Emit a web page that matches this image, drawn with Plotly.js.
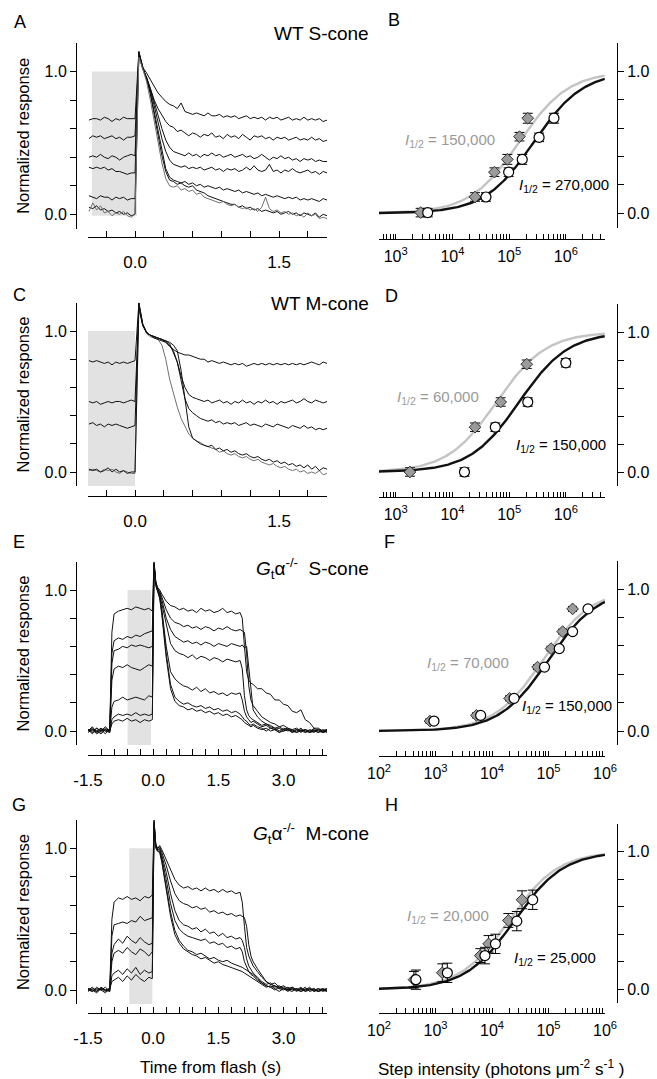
<!DOCTYPE html>
<html><head><meta charset="utf-8">
<script src="https://cdn.plot.ly/plotly-3.0.1.min.js"></script>
<style>html,body{margin:0;padding:0;background:#fff}#chart{width:657px;height:1079px}</style>
</head><body><div id="chart"></div>
<script>
// ---------- time bases ----------
const tWT = [-0.48,-0.44,-0.40,-0.36,-0.32,-0.28,-0.24,-0.20,-0.16,-0.12,-0.08,-0.04, 0.00,
 0.04,0.08,0.12,0.16,0.20,0.24,0.28,0.32,0.36,0.40,
 0.44,0.48,0.52,0.56,0.60,0.64,0.68,0.72,0.76,0.80,
 0.84,0.88,0.92,0.96,1.00,1.04,1.08,1.12,1.16,1.20,
 1.24,1.28,1.32,1.36,1.40,1.44,1.48,1.52,1.56,1.60,
 1.64,1.68,1.72,1.76,1.80,1.84,1.88,1.92,1.96,2.00];
const tKO = [-1.5,-1.4,-1.3,-1.2,-1.1,-1.0, -0.95, -0.9,-0.8,-0.7,-0.6,-0.5,-0.4,-0.3,-0.2,-0.1, -0.02,
 0.02,0.06,0.1,0.15,0.2,
 0.3,0.4,0.5,0.6,0.7,0.8,0.9,1.0,1.1,1.2,1.3,1.4,1.5,1.6,1.7,1.8,1.9,2.0,
 2.05,2.1,2.15,2.2,2.25,
 2.3,2.4,2.5,2.6,2.7,2.8,2.9,3.0,3.1,3.2,3.3,3.4,3.5,3.6,3.7,3.8,3.9,4.0];

// ---------- panel A : WT S-cone ----------
const A1 = [0.66,0.67,0.67,0.66,0.68,0.67,0.65,0.67,0.66,0.68,0.67,0.67, 0.67,
 1.14,1.03,0.99,0.94,0.89,0.85,0.82,0.79,0.77,0.76,
 0.74,0.78,0.72,0.71,0.70,0.71,0.70,0.69,0.71,0.69,
 0.69,0.70,0.68,0.69,0.68,0.69,0.67,0.68,0.69,0.67,
 0.68,0.67,0.68,0.66,0.68,0.67,0.68,0.66,0.67,0.68,
 0.66,0.67,0.66,0.68,0.66,0.67,0.66,0.67,0.65,0.66];
const A2 = [0.53,0.55,0.54,0.55,0.53,0.54,0.55,0.53,0.54,0.52,0.54,0.54, 0.55,
 1.13,1.02,0.96,0.88,0.80,0.74,0.69,0.65,0.62,0.61,
 0.58,0.59,0.57,0.55,0.57,0.56,0.54,0.56,0.55,0.57,
 0.54,0.55,0.53,0.56,0.54,0.55,0.53,0.56,0.54,0.52,
 0.55,0.54,0.55,0.53,0.54,0.52,0.54,0.53,0.54,0.52,
 0.53,0.54,0.52,0.53,0.52,0.54,0.52,0.53,0.51,0.52];
const A3 = [0.40,0.41,0.40,0.42,0.40,0.39,0.41,0.40,0.38,0.40,0.41,0.42, 0.41,
 1.12,1.02,0.96,0.88,0.78,0.68,0.60,0.52,0.47,0.44,
 0.43,0.42,0.41,0.43,0.41,0.42,0.40,0.42,0.41,0.43,
 0.41,0.42,0.40,0.41,0.42,0.40,0.41,0.42,0.40,0.41,
 0.39,0.40,0.42,0.40,0.38,0.40,0.39,0.41,0.39,0.40,
 0.38,0.39,0.37,0.39,0.38,0.39,0.37,0.38,0.37,0.37];
const A4 = [0.33,0.32,0.33,0.32,0.33,0.31,0.32,0.30,0.30,0.29,0.28,0.29, 0.29,
 1.12,1.02,0.95,0.87,0.76,0.64,0.53,0.44,0.38,0.35,
 0.34,0.33,0.34,0.32,0.33,0.32,0.33,0.31,0.32,0.33,
 0.31,0.32,0.30,0.32,0.31,0.32,0.30,0.31,0.33,0.31,
 0.34,0.31,0.30,0.31,0.35,0.30,0.31,0.29,0.31,0.30,
 0.32,0.30,0.29,0.30,0.31,0.29,0.30,0.28,0.30,0.29];
const A5 = [0.13,0.12,0.11,0.13,0.12,0.12,0.10,0.12,0.11,0.12,0.10,0.11, 0.11,
 1.13,1.03,0.95,0.85,0.72,0.58,0.44,0.32,0.26,0.24,
 0.23,0.22,0.23,0.21,0.22,0.20,0.21,0.19,0.20,0.19,
 0.18,0.19,0.17,0.18,0.17,0.16,0.17,0.15,0.16,0.15,
 0.14,0.15,0.13,0.14,0.13,0.12,0.13,0.12,0.11,0.12,
 0.11,0.12,0.10,0.11,0.10,0.11,0.10,0.09,0.11,0.10];
const A6 = [0.05,0.04,0.06,0.03,0.04,0.02,0.03,0.01,0.02,0.00,0.01,-0.01, 0.00,
 1.14,1.03,0.95,0.84,0.70,0.55,0.41,0.30,0.24,0.23,
 0.21,0.22,0.20,0.19,0.20,0.17,0.16,0.15,0.13,0.12,
 0.11,0.10,0.09,0.08,0.07,0.07,0.05,0.06,0.04,0.05,
 0.03,0.04,0.02,0.03,0.02,0.01,0.02,0.00,0.01,0.02,
 0.00,0.01,-0.01,0.01,0.00,-0.01,0.01,-0.02,0.00,-0.01];
const A7gray = [0.02,0.08,0.03,0.06,0.01,0.02,-0.01,0.01,0.00,0.02,-0.01,-0.02, 0.00,
 1.10,1.02,0.93,0.80,0.65,0.50,0.36,0.25,0.20,0.19,
 0.20,0.17,0.18,0.16,0.17,0.14,0.15,0.12,0.11,0.10,
 0.09,0.08,0.09,0.07,0.06,0.07,0.05,0.04,0.05,0.03,
 0.04,0.02,0.05,0.12,0.04,0.02,0.03,0.01,0.02,0.00,
 0.01,-0.01,0.00,-0.02,0.01,-0.01,0.00,-0.03,-0.02,-0.03];

// ---------- panel C : WT M-cone ----------
const C1 = [0.79,0.78,0.79,0.78,0.77,0.78,0.76,0.78,0.77,0.78,0.77,0.78, 0.79,
 1.20,1.05,0.99,0.97,0.96,0.95,0.94,0.92,0.89,0.87,
 0.85,0.84,0.83,0.83,0.82,0.81,0.80,0.80,0.78,0.79,
 0.78,0.77,0.78,0.77,0.76,0.77,0.76,0.77,0.75,0.76,
 0.77,0.76,0.77,0.76,0.77,0.76,0.77,0.76,0.77,0.76,
 0.77,0.76,0.77,0.76,0.77,0.78,0.77,0.76,0.78,0.77];
const C2 = [0.50,0.49,0.50,0.48,0.49,0.50,0.49,0.50,0.50,0.49,0.50,0.51, 0.50,
 1.18,1.04,0.99,0.97,0.96,0.95,0.94,0.93,0.91,0.85,
 0.78,0.68,0.60,0.55,0.53,0.52,0.51,0.50,0.51,0.49,
 0.50,0.51,0.49,0.50,0.48,0.50,0.49,0.51,0.49,0.50,
 0.48,0.50,0.49,0.51,0.49,0.50,0.48,0.50,0.49,0.50,
 0.51,0.49,0.50,0.52,0.50,0.49,0.51,0.50,0.49,0.50];
const C3 = [0.34,0.35,0.33,0.34,0.32,0.34,0.33,0.34,0.33,0.32,0.31,0.32, 0.33,
 1.18,1.04,0.99,0.97,0.95,0.94,0.93,0.92,0.90,0.86,
 0.78,0.66,0.52,0.45,0.42,0.40,0.38,0.37,0.36,0.37,
 0.35,0.36,0.34,0.35,0.34,0.35,0.33,0.34,0.35,0.33,
 0.34,0.33,0.32,0.34,0.33,0.32,0.34,0.33,0.32,0.31,
 0.33,0.32,0.31,0.33,0.31,0.32,0.30,0.31,0.30,0.31];
const C4 = [0.02,0.01,0.02,0.00,0.01,0.03,0.00,0.02,0.00,0.01,-0.01,0.00, 0.00,
 1.20,1.05,0.99,0.97,0.96,0.95,0.94,0.93,0.92,0.90,
 0.86,0.72,0.50,0.32,0.24,0.22,0.20,0.19,0.18,0.19,
 0.16,0.17,0.15,0.16,0.14,0.15,0.13,0.12,0.13,0.11,
 0.10,0.11,0.09,0.08,0.09,0.07,0.08,0.06,0.07,0.05,
 0.06,0.04,0.05,0.03,0.05,0.02,0.04,0.01,0.03,0.02];
const C5gray = [0.01,0.02,0.01,0.00,0.02,0.01,0.02,0.00,-0.01,0.01,0.00,-0.01, -0.01,
 1.15,1.04,0.98,0.96,0.95,0.94,0.90,0.80,0.66,0.55,
 0.46,0.38,0.32,0.27,0.24,0.22,0.21,0.19,0.18,0.17,
 0.16,0.14,0.15,0.13,0.12,0.13,0.11,0.10,0.11,0.09,
 0.08,0.09,0.07,0.06,0.05,0.06,0.04,0.03,0.04,0.02,
 0.01,0.02,0.00,0.01,-0.01,0.00,-0.01,0.01,-0.02,-0.01];

// ---------- panel E : Gt alpha -/- S-cone ----------
const E1 = [0.01,-0.02,0.02,0.00,0.03,0.00, 0.70, 0.83,0.85,0.86,0.87,0.86,0.88,0.87,0.86,0.87, 0.85,
 1.20,1.06,1.02,1.00,0.97,
 0.92,0.89,0.88,0.86,0.87,0.85,0.86,0.84,0.87,0.85,0.86,0.84,0.85,0.87,0.84,0.85,0.83,0.84,
 0.80,0.60,0.42,0.36,0.34,
 0.33,0.30,0.30,0.27,0.26,0.22,0.22,0.19,0.18,0.14,0.13,0.15,0.08,0.06,0.02,0.02,0.00,0.01];
const E2 = [0.00,0.02,-0.01,0.01,-0.02,0.02, 0.55, 0.64,0.66,0.65,0.67,0.66,0.68,0.67,0.69,0.70, 0.71,
 1.19,1.05,1.01,0.99,0.95,
 0.86,0.80,0.77,0.76,0.74,0.75,0.73,0.74,0.72,0.74,0.73,0.71,0.73,0.72,0.74,0.72,0.71,0.72,
 0.71,0.70,0.55,0.32,0.22,
 0.18,0.14,0.10,0.08,0.06,0.05,0.03,0.04,0.02,0.01,0.02,0.00,0.01,-0.01,0.00,0.01,-0.01,0.00];
const E3 = [0.01,0.00,0.02,-0.01,0.02,0.00, 0.48, 0.57,0.58,0.60,0.59,0.61,0.60,0.61,0.60,0.59, 0.60,
 1.19,1.05,1.01,0.98,0.93,
 0.80,0.72,0.67,0.65,0.63,0.64,0.62,0.63,0.61,0.63,0.62,0.60,0.62,0.61,0.60,0.62,0.61,0.60,
 0.61,0.59,0.60,0.45,0.25,
 0.15,0.10,0.07,0.05,0.04,0.02,0.03,0.01,0.02,0.00,0.01,-0.01,0.01,0.00,-0.01,0.01,0.00,-0.01];
const E4 = [0.00,0.03,-0.01,0.01,0.00,0.01, 0.36, 0.44,0.46,0.45,0.47,0.45,0.44,0.43,0.45,0.47, 0.46,
 1.18,1.05,1.00,0.97,0.90,
 0.74,0.62,0.57,0.55,0.54,0.52,0.54,0.51,0.53,0.52,0.50,0.52,0.51,0.49,0.51,0.50,0.49,0.50,
 0.44,0.25,0.15,0.11,0.09,
 0.08,0.06,0.04,0.05,0.03,0.02,0.00,0.02,0.01,-0.01,0.01,0.00,-0.01,0.01,0.00,-0.01,0.01,0.00];
const E5 = [0.01,-0.01,0.00,0.02,0.00,-0.01, 0.17, 0.21,0.22,0.24,0.22,0.23,0.24,0.23,0.22,0.25, 0.24,
 1.18,1.04,1.00,0.96,0.86,
 0.60,0.42,0.37,0.34,0.32,0.31,0.29,0.31,0.28,0.30,0.27,0.28,0.26,0.27,0.25,0.27,0.26,0.27,
 0.22,0.14,0.10,0.08,0.06,
 0.07,0.05,0.03,0.04,0.02,0.01,0.02,0.00,0.01,0.00,-0.01,0.01,0.00,-0.01,0.02,0.00,-0.01,0.00];
const E6 = [0.00,0.01,-0.02,0.00,0.01,-0.01, 0.08, 0.10,0.12,0.11,0.12,0.11,0.13,0.11,0.12,0.11, 0.12,
 1.17,1.04,1.00,0.95,0.84,
 0.55,0.33,0.24,0.21,0.19,0.20,0.18,0.17,0.18,0.16,0.17,0.15,0.16,0.14,0.15,0.13,0.14,0.12,
 0.10,0.08,0.07,0.05,0.04,
 0.05,0.03,0.02,0.00,0.02,0.01,-0.01,0.01,0.00,0.01,-0.01,0.00,0.01,-0.01,0.00,0.01,-0.01,0.00];
const E7 = [-0.01,0.01,0.00,-0.02,0.01,0.00, 0.05, 0.07,0.08,0.07,0.09,0.07,0.08,0.06,0.08,0.07, 0.08,
 1.16,1.03,0.99,0.94,0.82,
 0.52,0.30,0.21,0.18,0.17,0.15,0.16,0.14,0.15,0.13,0.14,0.12,0.13,0.11,0.12,0.10,0.11,0.09,
 0.08,0.06,0.05,0.04,0.03,
 0.04,0.02,0.01,0.02,0.00,0.01,-0.01,0.00,0.01,-0.01,0.00,0.02,-0.01,0.00,0.01,-0.01,0.00,0.01];

// ---------- panel G : Gt alpha -/- M-cone ----------
const G1 = [0.01,-0.01,0.02,0.00,-0.02,0.01, 0.50, 0.62,0.65,0.64,0.66,0.64,0.65,0.63,0.66,0.65, 0.67,
 1.20,1.02,1.00,1.02,0.99,
 0.92,0.84,0.78,0.74,0.72,0.73,0.71,0.72,0.70,0.72,0.70,0.71,0.69,0.71,0.69,0.70,0.68,0.69,
 0.62,0.45,0.30,0.24,0.20,
 0.17,0.13,0.09,0.06,0.04,0.05,0.02,0.03,0.01,0.02,0.00,0.01,-0.01,0.01,0.00,-0.01,0.01,0.00];
const G2 = [0.00,0.02,-0.01,0.01,0.00,-0.01, 0.38, 0.46,0.47,0.48,0.47,0.49,0.48,0.52,0.49,0.50, 0.51,
 1.19,1.03,1.00,1.01,0.97,
 0.88,0.77,0.68,0.63,0.61,0.60,0.58,0.59,0.57,0.58,0.55,0.56,0.54,0.55,0.53,0.54,0.52,0.53,
 0.52,0.51,0.45,0.32,0.24,
 0.20,0.15,0.10,0.06,0.04,0.03,0.01,0.02,0.00,0.01,-0.01,0.01,0.00,0.02,-0.01,0.00,0.01,-0.01];
const G3 = [0.01,0.00,-0.01,0.02,0.00,0.01, 0.26, 0.32,0.36,0.33,0.38,0.35,0.33,0.37,0.34,0.32, 0.33,
 1.18,1.02,0.99,1.00,0.95,
 0.83,0.68,0.56,0.49,0.46,0.45,0.43,0.44,0.41,0.43,0.40,0.41,0.38,0.40,0.37,0.38,0.36,0.37,
 0.35,0.30,0.22,0.17,0.14,
 0.12,0.09,0.06,0.04,0.05,0.02,0.03,0.01,0.00,0.02,0.00,-0.01,0.01,0.00,0.01,-0.01,0.00,0.01];
const G4 = [-0.01,0.01,0.00,0.01,-0.01,0.00, 0.20, 0.26,0.28,0.26,0.30,0.27,0.25,0.29,0.27,0.24, 0.27,
 1.17,1.02,0.99,0.99,0.93,
 0.78,0.61,0.49,0.43,0.40,0.38,0.37,0.36,0.35,0.36,0.33,0.34,0.32,0.33,0.30,0.31,0.29,0.30,
 0.27,0.20,0.16,0.13,0.11,
 0.10,0.07,0.05,0.03,0.02,0.03,0.01,0.00,0.02,0.00,0.01,-0.01,0.00,0.01,-0.01,0.01,0.00,-0.01];
const G5 = [0.00,-0.01,0.01,0.00,0.02,-0.01, 0.10, 0.12,0.14,0.11,0.15,0.12,0.16,0.11,0.14,0.12, 0.13,
 1.16,1.01,0.98,0.98,0.91,
 0.73,0.55,0.42,0.35,0.31,0.28,0.27,0.25,0.26,0.24,0.22,0.23,0.21,0.20,0.21,0.19,0.18,0.17,
 0.16,0.15,0.14,0.13,0.12,
 0.11,0.08,0.05,0.03,0.02,0.00,0.02,0.01,-0.01,0.01,0.00,0.02,-0.01,0.00,0.01,-0.01,0.00,0.01];
const G6 = [0.01,0.00,-0.02,0.01,0.00,0.01, 0.06, 0.07,0.09,0.06,0.10,0.07,0.11,0.08,0.06,0.09, 0.08,
 1.15,1.00,0.98,0.97,0.90,
 0.71,0.52,0.39,0.33,0.29,0.27,0.25,0.24,0.22,0.23,0.21,0.19,0.20,0.18,0.17,0.16,0.15,0.14,
 0.13,0.12,0.11,0.10,0.09,
 0.08,0.06,0.04,0.02,0.03,0.01,-0.01,0.01,0.00,-0.01,0.01,0.00,0.02,-0.01,0.00,0.01,-0.01,0.00];

// ---------- flash / step windows (time, response) ----------
const windowA = [-0.45, 0.02, -0.01, 1.0];
const windowC = [-0.50, 0.00, -0.10, 1.0];
const windowE = [-0.59, -0.05, -0.10, 1.0];
const windowG = [-0.55, -0.02, -0.10, 1.0];

// ---------- intensity-response panels ----------
// B: WT S-cone
const B_dia_I = [2750, 25000, 55000, 93000, 152000, 213000];
const B_dia_R = [0.005, 0.115, 0.29, 0.38, 0.54, 0.67];
const B_dia_E = [0.03, 0.03, 0.03, 0.035, 0.03, 0.035];
const B_cir_I = [3660, 39000, 98000, 170000, 337000, 617000];
const B_cir_R = [0.005, 0.115, 0.29, 0.38, 0.535, 0.67];
const B_cir_E = [0.03, 0.03, 0.03, 0.035, 0.03, 0.035];
// D: WT M-cone
const D_dia_I = [1780, 25000, 71000, 204000];
const D_dia_R = [0.0, 0.32, 0.50, 0.77];
const D_dia_E = [0.03, 0.03, 0.03, 0.03];
const D_cir_I = [16300, 57000, 213000, 1000000];
const D_cir_R = [0.0, 0.32, 0.50, 0.78];
const D_cir_E = [0.03, 0.03, 0.03, 0.03];
// F: Gt -/- S-cone (horizontal error, decades)
const F_dia_I = [800, 5300, 20400, 64000, 111000, 178000, 267000];
const F_dia_R = [0.07, 0.11, 0.23, 0.45, 0.58, 0.70, 0.86];
const F_cir_I = [940, 6300, 24600, 85000, 155000, 267000, 500000];
const F_cir_R = [0.07, 0.11, 0.23, 0.45, 0.58, 0.70, 0.86];
const F_errDec = [0.07, 0.07, 0.07, 0.07, 0.07, 0.07, 0.07];
// H: Gt -/- M-cone
const H_dia_I = [415, 1320, 6200, 8700, 19500, 34000];
const H_dia_R = [0.07, 0.12, 0.245, 0.33, 0.50, 0.65];
const H_dia_E = [0.06, 0.065, 0.05, 0.06, 0.05, 0.065];
const H_cir_I = [450, 1620, 7500, 11500, 27500, 52500];
const H_cir_R = [0.07, 0.12, 0.245, 0.33, 0.495, 0.65];
const H_cir_E = [0.07, 0.07, 0.06, 0.07, 0.07, 0.07];

// half-saturation intensities of the fitted curves [black, gray]
const halfSatB = [270000, 150000];
const halfSatD = [150000, 60000];
const halfSatF = [100000, 80000];
const halfSatH = [25000, 20000];
const labelsB = ['270,000', '150,000'];
const labelsD = ['150,000', '60,000'];
const labelsF = ['150,000', '70,000'];
const labelsH = ['25,000', '20,000'];

const xTicksWT = [0, 1.5], xTickTextWT = ['0.0', '1.5'];
const xMinorWT = [-0.3, 0.3, 0.6, 0.9, 1.2, 1.8];
const xTicksKO = [-1.5, 0, 1.5, 3.0], xTickTextKO = ['-1.5', '0.0', '1.5', '3.0'];
const xMinorKO = [-1.2,-0.9,-0.6,-0.3,0.3,0.6,0.9,1.2,1.8,2.1,2.4,2.7,3.3,3.6,3.9];
const yTicks = [0, 1], yTickText = ['0.0', '1.0'];
const yMinor = [0.2, 0.4, 0.6, 0.8];

// ---------- build ----------
const W = 657, H = 1079;
const FONT = '"Liberation Sans", Arial, Helvetica, sans-serif';
const fx = v => v / W, fy = v => 1 - v / H;
const BLACK = '#111', GRAYTR = '#707070', GRAYFIT = '#c4c4c4', GRAYTXT = '#9a9a9a';

const traces = [];
function lineTraces(t, series, color, xa, ya) {
  series.forEach(s => traces.push({type:'scatter', mode:'lines', x:t, y:s, xaxis:xa, yaxis:ya,
    line:{color:color, width:1}, hoverinfo:'skip', showlegend:false}));
}
lineTraces(tWT, [A1,A2,A3,A4,A5,A6], BLACK, 'x', 'y');
lineTraces(tWT, [A7gray], GRAYTR, 'x', 'y');
lineTraces(tWT, [C5gray], GRAYTR, 'x3', 'y3');
lineTraces(tWT, [C1,C2,C3,C4], BLACK, 'x3', 'y3');
lineTraces(tKO, [E1,E2,E3,E4,E5,E6,E7], BLACK, 'x5', 'y5');
lineTraces(tKO, [G1,G2,G3,G4,G5,G6], BLACK, 'x7', 'y7');

function fitCurves(halfSat, lo, hi, xa, ya) {
  const I = [];
  for (let e = lo; e <= hi + 1e-9; e += 0.02) I.push(Math.pow(10, e));
  [[halfSat[1], GRAYFIT], [halfSat[0], BLACK]].forEach(([k, c]) => {
    traces.push({type:'scatter', mode:'lines', x:I, y:I.map(v => v / (v + k)), xaxis:xa, yaxis:ya,
      line:{color:c, width:2.4}, hoverinfo:'skip', showlegend:false});
  });
}
function points(I, R, errY, errXdec, symbol, xa, ya) {
  const tr = {type:'scatter', mode:'markers', x:I, y:R, xaxis:xa, yaxis:ya, hoverinfo:'skip', showlegend:false, cliponaxis:false,
    marker: symbol === 'diamond'
      ? {symbol:'diamond', size:9, color:'#9b9b9b', line:{color:'#333', width:1}}
      : {symbol:'circle', size:10, color:'white', line:{color:'#000', width:1.2}}};
  if (errY) tr.error_y = {type:'data', array:errY, visible:true, color:'#000', thickness:1, width:5};
  if (errXdec) tr.error_x = {type:'data', symmetric:false,
    array: I.map((v,i) => v * (Math.pow(10, errXdec[i]) - 1)),
    arrayminus: I.map((v,i) => v * (1 - Math.pow(10, -errXdec[i]))),
    visible:true, color:'#000', thickness:1, width:3};
  traces.push(tr);
}
const rngWT = [Math.log10(507), Math.log10(4.9e6)];
const rngKO = [2, 6];
fitCurves(halfSatB, rngWT[0], rngWT[1], 'x2', 'y2');
points(B_dia_I, B_dia_R, B_dia_E, null, 'diamond', 'x2', 'y2');
points(B_cir_I, B_cir_R, B_cir_E, null, 'circle', 'x2', 'y2');
fitCurves(halfSatD, rngWT[0], rngWT[1], 'x4', 'y4');
points(D_dia_I, D_dia_R, D_dia_E, null, 'diamond', 'x4', 'y4');
points(D_cir_I, D_cir_R, D_cir_E, null, 'circle', 'x4', 'y4');
fitCurves(halfSatF, rngKO[0], rngKO[1], 'x6', 'y6');
points(F_dia_I, F_dia_R, null, F_errDec, 'diamond', 'x6', 'y6');
points(F_cir_I, F_cir_R, null, F_errDec, 'circle', 'x6', 'y6');
fitCurves(halfSatH, rngKO[0], rngKO[1], 'x8', 'y8');
points(H_dia_I, H_dia_R, H_dia_E, null, 'diamond', 'x8', 'y8');
points(H_cir_I, H_cir_R, H_cir_E, null, 'circle', 'x8', 'y8');

// ---------- axes ----------
const tickFont = {family:FONT, size:16, color:'#000'};
const common = {showgrid:false, zeroline:false, showline:true, linecolor:'#000', linewidth:1,
  tickcolor:'#000', tickwidth:1, tickfont:tickFont, fixedrange:true};
function minorLog(lo, hi) {
  const out = [];
  for (let d = Math.floor(lo); d <= Math.ceil(hi); d++)
    for (let m = 2; m <= 9; m++) { const v = m * Math.pow(10, d); if (Math.log10(v) >= lo && Math.log10(v) <= hi) out.push(v); }
  return out;
}
const rowsL = [ {top:43, bot:228.6, xl:237}, {top:302.8, bot:486.1, xl:496}, {top:561.8, bot:745.1, xl:755}, {top:820, bot:1004.2, xl:1013} ];
const rowsR = [ {top:43, bot:227.5, xl:239}, {top:304, bot:486, xl:497}, {top:560.6, bot:745.2, xl:756}, {top:824, bot:1003.1, xl:1013} ];
const layout = {width:W, height:H, margin:{l:0,r:0,t:0,b:0}, paper_bgcolor:'#fff', plot_bgcolor:'rgba(0,0,0,0)',
  showlegend:false, font:{family:FONT, size:16, color:'#000'}, shapes:[], annotations:[]};

function yAxis(row, side) {
  return Object.assign({}, common, {domain:[fy(row.bot), fy(row.top)], anchor:'free',
    position: side === 'left' ? fx(76) : fx(617), side:side, range:[-0.1, 1.2],
    ticks:'outside', ticklen:6, tickmode:'array', tickvals:yTicks, ticktext:yTickText,
    minor:{tickmode:'array', tickvals:yMinor, ticks:'outside', ticklen:6, tickcolor:'#000', tickwidth:1, showgrid:false}});
}
function xLin(row, range, tv, tt, mv) {
  return Object.assign({}, common, {domain:[fx(88), fx(327)], anchor:'free', position:fy(row.xl), range:range,
    ticks:'inside', ticklen:6, tickmode:'array', tickvals:tv, ticktext:tt, ticklabelstandoff:10,
    tickfont:{family:FONT, size:17, color:'#000'},
    minor:{tickmode:'array', tickvals:mv, ticks:'inside', ticklen:6, tickcolor:'#000', tickwidth:1, showgrid:false}});
}
function xLog(row, range) {
  const dec = []; for (let d = Math.ceil(range[0] - 1e-9); d <= Math.floor(range[1] + 1e-9); d++) dec.push(d);
  return Object.assign({}, common, {type:'log', domain:[fx(379), fx(605)], anchor:'free', position:fy(row.xl), range:range,
    ticks:'inside', ticklen:5, tickmode:'array', tickvals:dec.map(d => Math.pow(10, d)),
    ticktext:dec.map(d => '10<sup>' + d + '</sup>'), ticklabelstandoff:3,
    minor:{tickmode:'array', tickvals:minorLog(range[0], range[1]), ticks:'inside', ticklen:5, tickcolor:'#000', tickwidth:1, showgrid:false}});
}
layout.xaxis  = xLin(rowsL[0], [-0.49, 2.0], xTicksWT, xTickTextWT, xMinorWT);
layout.yaxis  = yAxis(rowsL[0], 'left');
layout.xaxis2 = xLog(rowsR[0], rngWT);
layout.yaxis2 = yAxis(rowsR[0], 'right');
layout.xaxis3 = xLin(rowsL[1], [-0.49, 2.0], xTicksWT, xTickTextWT, xMinorWT);
layout.yaxis3 = yAxis(rowsL[1], 'left');
layout.xaxis4 = xLog(rowsR[1], rngWT);
layout.yaxis4 = yAxis(rowsR[1], 'right');
layout.xaxis5 = xLin(rowsL[2], [-1.5, 4.0], xTicksKO, xTickTextKO, xMinorKO);
layout.yaxis5 = yAxis(rowsL[2], 'left');
layout.xaxis6 = xLog(rowsR[2], rngKO);
layout.yaxis6 = yAxis(rowsR[2], 'right');
layout.xaxis7 = xLin(rowsL[3], [-1.5, 4.0], xTicksKO, xTickTextKO, xMinorKO);
layout.yaxis7 = yAxis(rowsL[3], 'left');
layout.xaxis8 = xLog(rowsR[3], rngKO);
layout.yaxis8 = yAxis(rowsR[3], 'right');

// gray stimulus windows
[[windowA,'x','y'],[windowC,'x3','y3'],[windowE,'x5','y5'],[windowG,'x7','y7']].forEach(([w,xa,ya]) => {
  layout.shapes.push({type:'rect', xref:xa, yref:ya, x0:w[0], x1:w[1], y0:w[2], y1:w[3],
    fillcolor:'#e2e2e2', line:{width:0}, layer:'below'});
});

// annotations
function ann(text, x, y, opts) {
  layout.annotations.push(Object.assign({text:text, xref:'paper', yref:'paper', x:fx(x), y:fy(y),
    showarrow:false, xanchor:'center', yanchor:'middle', font:{family:FONT, size:16, color:'#000'}}, opts || {}));
}
const letterFont = {family:FONT, size:18, color:'#000'};
[['A',20,21.5],['B',394,20],['C',19,295],['D',391,295.5],['E',19,542],['F',389,542],['G',19,805],['H',391,805]]
  .forEach(([l,x,y]) => ann(l, x, y, {font:letterFont}));
const titleFont = {family:FONT, size:19, color:'#000'};
ann('WT S-cone', 371, 33, {xanchor:'right', font:titleFont});
ann('WT M-cone', 371, 303, {xanchor:'right', font:titleFont});
ann('<i>G</i><sub>t</sub>α<sup>-/-</sup>\u00a0 S-cone', 371, 568, {xanchor:'right', font:titleFont});
ann('<i>G</i><sub>t</sub>α<sup>-/-</sup>\u00a0 M-cone', 371, 833, {xanchor:'right', font:titleFont});
rowsL.forEach(r => ann('Normalized response', 23, (r.top + r.bot) / 2, {textangle:-90, font:{family:FONT, size:16.5, color:'#000'}}));
ann('Time from flash (s)', 210, 1067, {font:{family:FONT, size:17, color:'#000'}});
ann('Step intensity (photons μm<sup>-2</sup> s<sup>-1</sup> )', 501, 1068, {font:{family:FONT, size:17, color:'#000'}});

const i12 = v => '<i>I</i><sub>1/2</sub> = ' + v;
const blkF = {family:FONT, size:15, color:'#000'}, gryF = {family:FONT, size:15, color:GRAYTXT};
ann(i12(labelsB[1]), 403, 140, {xanchor:'left', font:gryF});
ann(i12(labelsB[0]), 611, 185, {xanchor:'right', font:blkF});
ann(i12(labelsD[1]), 395, 397, {xanchor:'left', font:gryF});
ann(i12(labelsD[0]), 608, 445, {xanchor:'right', font:blkF});
ann(i12(labelsF[1]), 425, 663, {xanchor:'left', font:gryF});
ann(i12(labelsF[0]), 614, 706, {xanchor:'right', font:blkF});
ann(i12(labelsH[1]), 405, 916, {xanchor:'left', font:gryF});
ann(i12(labelsH[0]), 512, 958, {xanchor:'left', font:blkF});

Plotly.newPlot('chart', traces, layout, {staticPlot:true, displayModeBar:false});
</script></body></html>
